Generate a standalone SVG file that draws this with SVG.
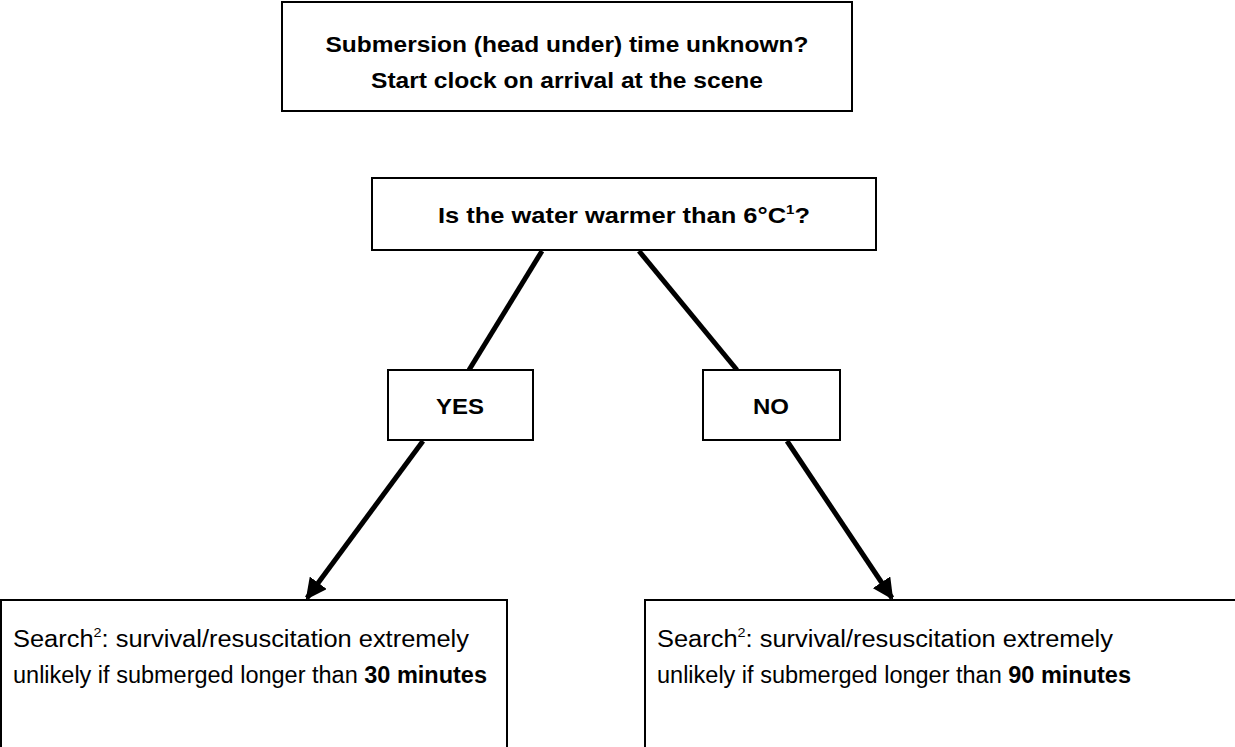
<svg xmlns="http://www.w3.org/2000/svg" width="1235" height="747" viewBox="0 0 1235 747">
<style>
.box{fill:#fff;stroke:#000;stroke-width:2}
.b{font-family:"Liberation Sans",Arial,sans-serif;font-weight:bold;font-size:22px;fill:#000}
.r{font-family:"Liberation Sans",Arial,sans-serif;font-size:23px;fill:#000}
.c{stroke:#000;stroke-width:5;fill:none}
</style>
<defs>
<marker id="ah" viewBox="0 0 10 10" refX="9" refY="5" markerWidth="4.2" markerHeight="4.2" orient="auto" markerUnits="strokeWidth">
<path d="M0,0 L10,5 L0,10 z" fill="#000"/>
</marker>
</defs>
<g id="connectors">
<line class="c" x1="542" y1="251" x2="469" y2="370"/>
<line class="c" x1="639" y1="251" x2="737" y2="370"/>
<line class="c" x1="423" y1="441" x2="307" y2="598" marker-end="url(#ah)"/>
<line class="c" x1="787" y1="441" x2="892" y2="598" marker-end="url(#ah)"/>
</g>
<g id="n-start">
<rect class="box" x="282" y="2" width="570" height="109"/>
<text class="b" x="567" y="52" text-anchor="middle" textLength="483" lengthAdjust="spacingAndGlyphs">Submersion (head under) time unknown?</text>
<text class="b" x="567" y="88" text-anchor="middle" textLength="392" lengthAdjust="spacingAndGlyphs">Start clock on arrival at the scene</text>
</g>
<g id="n-question">
<rect class="box" x="372" y="178" width="504" height="72"/>
<text class="b" x="624" y="223" text-anchor="middle" textLength="372" lengthAdjust="spacingAndGlyphs">Is the water warmer than 6°C<tspan font-size="13" dy="-9">1</tspan><tspan dy="9">?</tspan></text>
</g>
<g id="n-yes">
<rect class="box" x="388" y="370" width="145" height="70"/>
<text class="b" x="460" y="414" text-anchor="middle" textLength="48" lengthAdjust="spacingAndGlyphs">YES</text>
</g>
<g id="n-no">
<rect class="box" x="703" y="370" width="137" height="70"/>
<text class="b" x="771" y="414" text-anchor="middle" textLength="36" lengthAdjust="spacingAndGlyphs">NO</text>
</g>
<g id="n-left">
<rect class="box" x="1" y="600" width="506" height="160"/>
<text class="r" x="13" y="647" textLength="456" lengthAdjust="spacingAndGlyphs">Search<tspan font-size="13" dy="-10">2</tspan><tspan dy="10">: survival/resuscitation extremely</tspan></text>
<text class="r" x="13" y="683" textLength="474" lengthAdjust="spacingAndGlyphs">unlikely if submerged longer than <tspan font-weight="bold">30 minutes</tspan></text>
</g>
<g id="n-right">
<rect class="box" x="645" y="600" width="600" height="160"/>
<text class="r" x="657" y="647" textLength="456" lengthAdjust="spacingAndGlyphs">Search<tspan font-size="13" dy="-10">2</tspan><tspan dy="10">: survival/resuscitation extremely</tspan></text>
<text class="r" x="657" y="683" textLength="474" lengthAdjust="spacingAndGlyphs">unlikely if submerged longer than <tspan font-weight="bold">90 minutes</tspan></text>
</g>
</svg>
